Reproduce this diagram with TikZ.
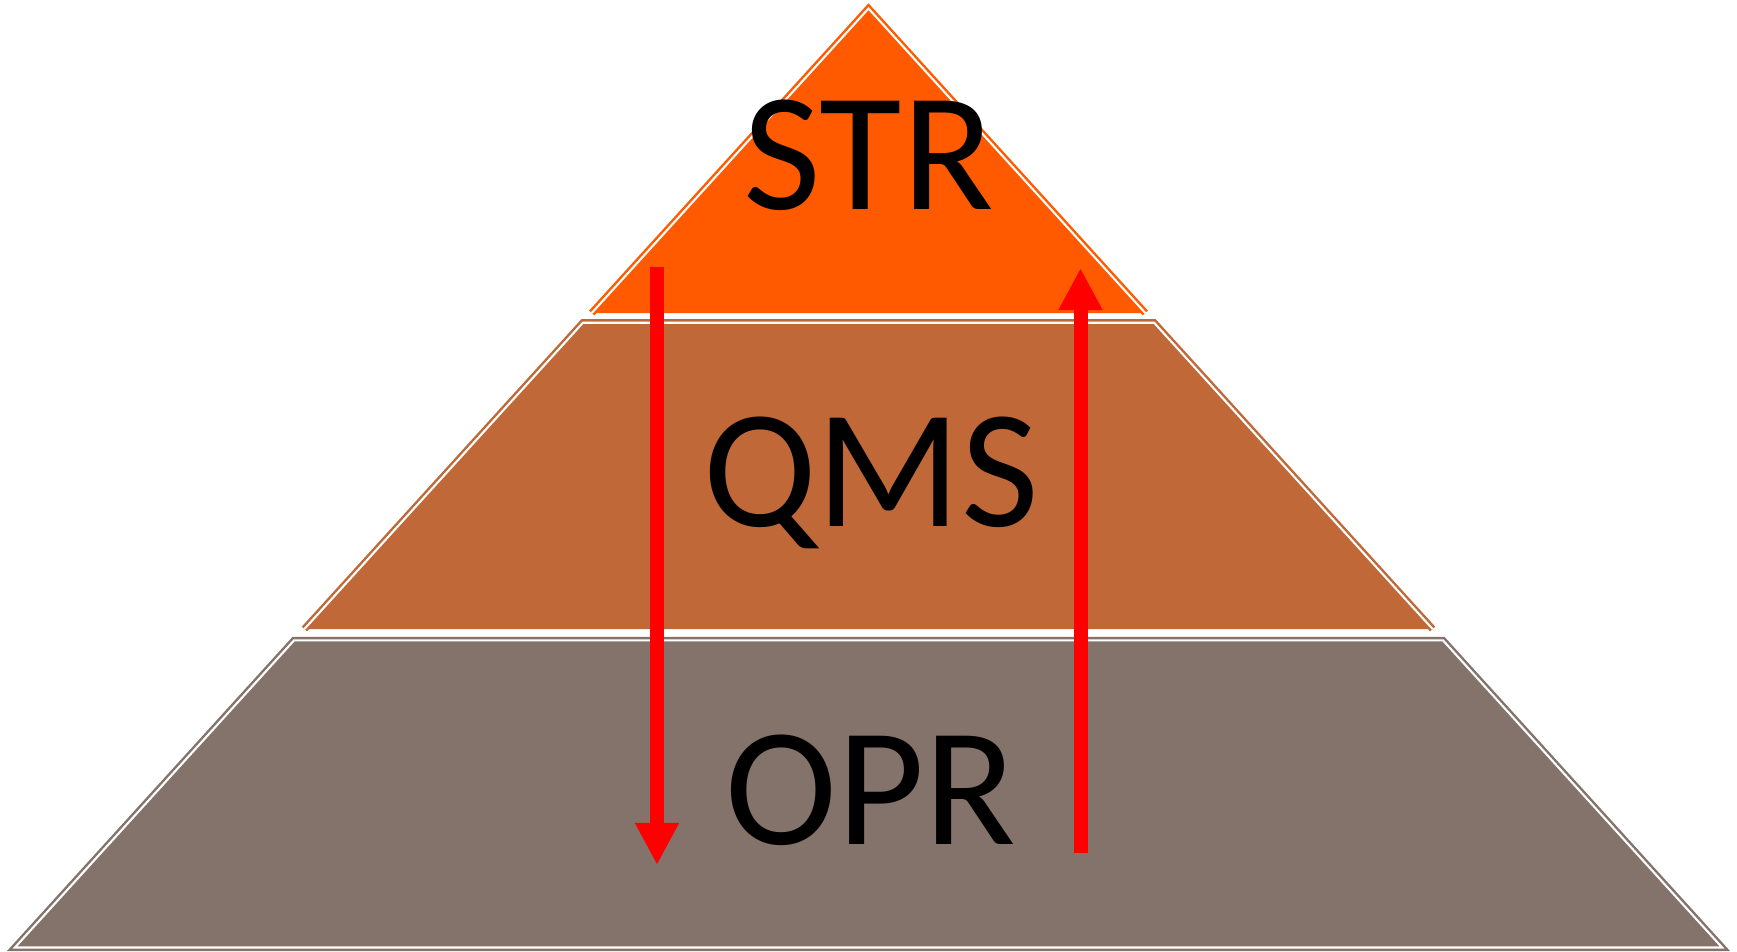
\documentclass[tikz,border=0pt]{standalone}
\usepackage{fontspec}
\setmainfont{Carlito}
\usepackage{tikz}
\usetikzlibrary{arrows.meta}
\definecolor{strorange}{RGB}{255,90,0}
\definecolor{qmsbrown}{RGB}{192,104,56}
\definecolor{oprgrey}{RGB}{132,115,107}
\definecolor{arrowred}{RGB}{255,0,0}
\tikzset{
	tieredge/.style={line width=0.7pt, double=white, double distance=0.6pt, line join=miter},
	tierlabel/.style={anchor=base, font=\fontsize{48}{58}\selectfont, text=black, inner sep=0pt},
	flowarrow/.style={line width=0.14cm, draw=arrowred, -{Triangle[length=0.42cm, width=0.41cm]}}
}

\begin{document}
\begin{tikzpicture}[x=0.01cm, y=-0.01cm]
		%%%%% START %%%%%
		\useasboundingbox (0, 0) rectangle (1737, 951);
		
		% top tier
		\fill[strorange] (591.7, 313) -- (868.5, 8.5) -- (1145.3, 313) -- cycle;
		\draw[tieredge, draw=strorange] (591.7, 313) -- (868.5, 8.5) -- (1145.3, 313);
		
		% middle tier
		\fill[qmsbrown] (304.4, 629) -- (582.9, 322.7) -- (1154.1, 322.7) -- (1432.6, 629) -- cycle;
		\draw[tieredge, draw=qmsbrown] (304.4, 629) -- (582.9, 322.7) -- (1154.1, 322.7) -- (1432.6, 629);
		
		% bottom tier
		\draw[tieredge, draw=oprgrey, fill=oprgrey] (14.9, 947.5) -- (294.1, 640.3) -- (1442.9, 640.3) -- (1722.1, 947.5) -- cycle;
		
		\node[tierlabel] (str) at (868.5, 209.4) {STR};
		\node[tierlabel] (qms) at (871, 526) {QMS};
		\node[tierlabel] (opr) at (871, 844) {OPR};
		
		\coordinate (down-start) at (657, 267);
		\coordinate (down-end) at (657, 865);
		\coordinate (up-start) at (1080.5, 853);
		\coordinate (up-end) at (1080.5, 268);
		
		\draw[flowarrow] (down-start) -- (down-end);
		\draw[flowarrow] (up-start) -- (up-end);
		
		%%%%% END %%%%%
	\end{tikzpicture}
\end{document}
